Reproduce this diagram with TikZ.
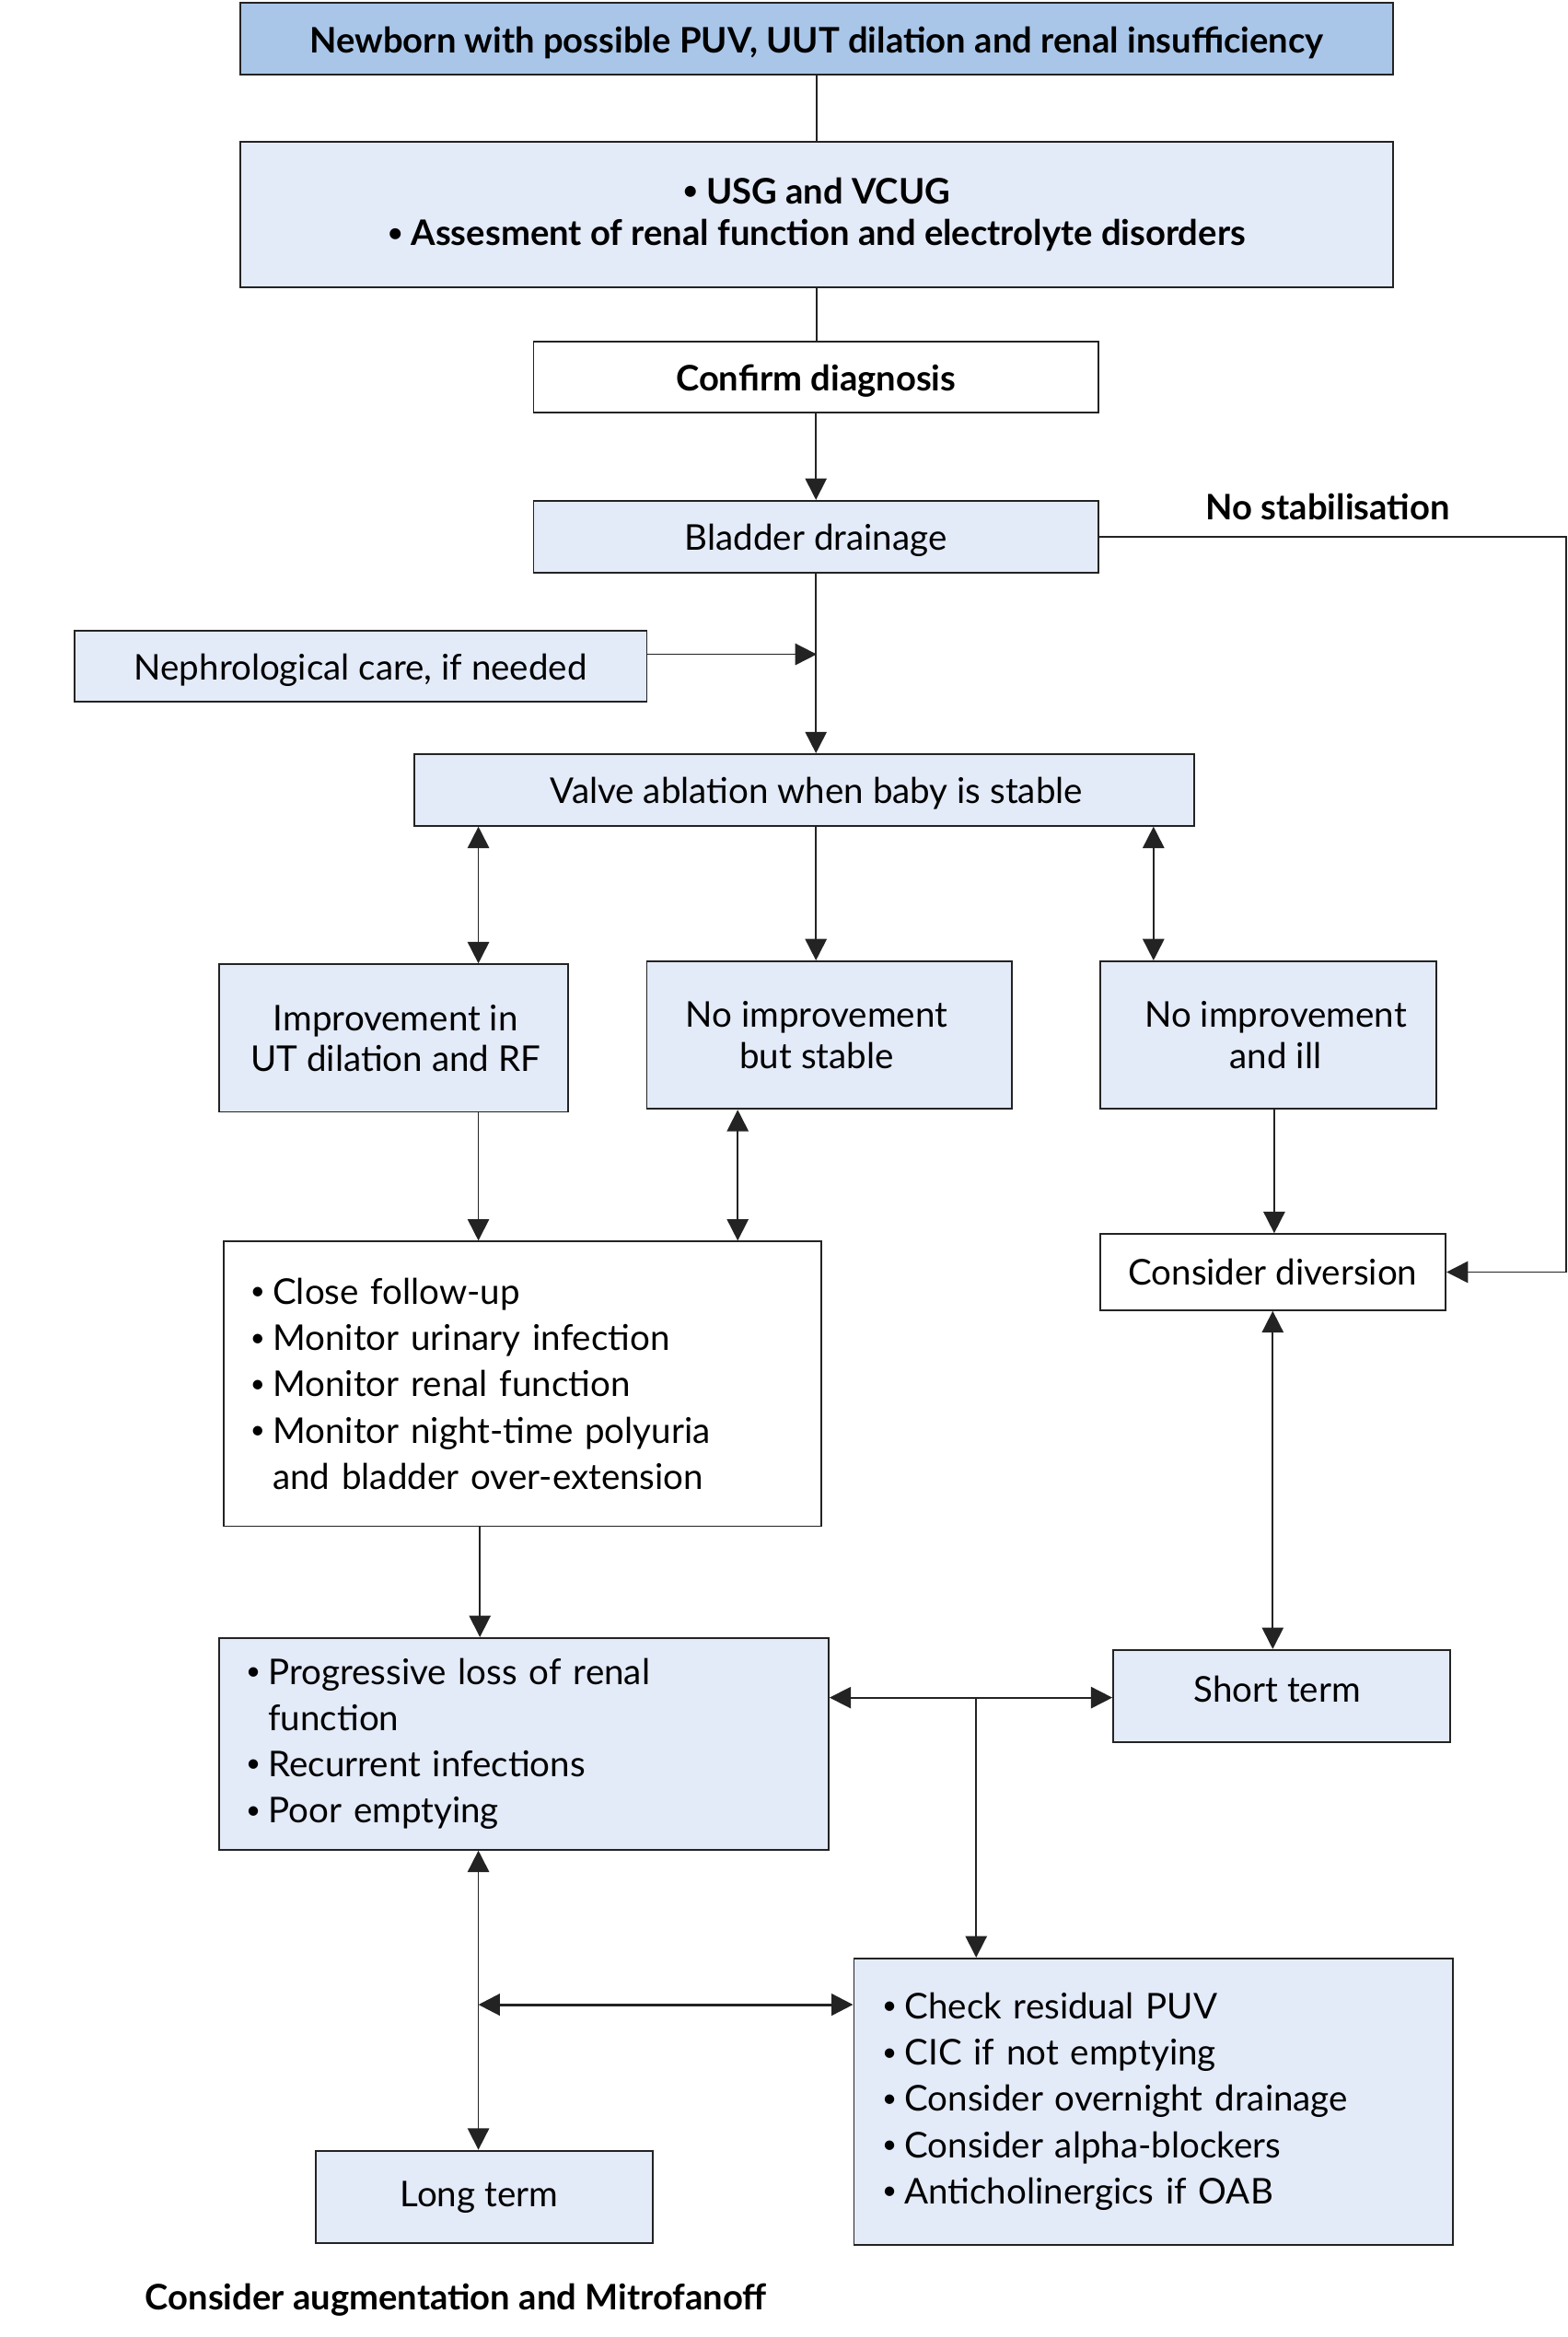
\documentclass[tikz,border=0pt]{standalone}
\usepackage{fontspec}
\usepackage{graphicx}
\setmainfont{Lato}
\usetikzlibrary{arrows.meta}
\definecolor{hdr}{RGB}{169,198,233}
\definecolor{lb}{RGB}{227,234,248}
\definecolor{ln}{RGB}{35,35,35}
\newcommand\bul{\raisebox{0.12em}{\scalebox{0.72}{\textbullet}}}
\newcommand\itm[1]{\makebox[7.5pt][l]{\bul}#1}
\newcommand\cnt[1]{\hspace*{7.5pt}#1}
\newcommand\off[2]{\hspace*{#1}#2}
\begin{document}
\begin{tikzpicture}[x=0.5pt,y=-0.5pt,
  box/.style={draw=ln, line width=0.6pt, fill=lb, inner sep=0pt, align=center,
    font=\fontsize{11.9}{13.7}\selectfont},
  one/.style={text height=9.5pt, text depth=0.2pt},
  hdrbox/.style={box, fill=hdr, font=\fontsize{11.8}{14}\selectfont\bfseries},
  wbox/.style={box, fill=white},
  lst/.style={box, align=left, inner xsep=9pt, inner ysep=0pt,
    font=\fontsize{11.9}{15.5}\selectfont},
  lbl/.style={inner sep=0pt, font=\fontsize{11.8}{14}\selectfont\bfseries},
  con/.style={draw=ln, line width=0.55pt},
  arr/.style={con, -{Triangle[length=7.2pt,width=7.2pt]}},
  darr/.style={con, {Triangle[length=7.2pt,width=7.2pt]}-{Triangle[length=7.2pt,width=7.2pt]}}
]
\useasboundingbox (0,0) rectangle (1052,1568);

\node[hdrbox, one, minimum width=387pt, minimum height=24pt] (top) at (548,26)
  {Newborn with possible PUV, UUT dilation and renal insufficiency};
\node[box, minimum width=387pt, minimum height=49pt, font=\fontsize{11.8}{14}\selectfont\bfseries] (usg) at (548,144)
  {\bul\ USG and VCUG\\\bul\ Assesment of renal function and electrolyte disorders};
\node[wbox, one, minimum width=189.5pt, minimum height=24pt, font=\fontsize{11.8}{14}\selectfont\bfseries] (conf) at (547.5,253)
  {Confirm diagnosis};
\node[box, one, minimum width=189.5pt, minimum height=24pt] (blad) at (547.5,360)
  {Bladder drainage};
\node[box, one, minimum width=192pt, minimum height=24pt] (neph) at (242,447)
  {Nephrological care, if needed};
\node[box, one, minimum width=261.5pt, minimum height=24pt] (valve) at (539.5,530)
  {\off{8.5pt}{Valve ablation when baby is stable}};
\node[box, minimum width=117pt, minimum height=49.5pt] (impr) at (264,696.5)
  {\off{1.5pt}{Improvement in}\\\off{1.5pt}{UT dilation and RF}};
\node[box, minimum width=122.5pt, minimum height=49.5pt] (stab) at (556.5,694.5)
  {\off{-8.5pt}{No improvement}\\\off{-8.5pt}{but stable}};
\node[box, minimum width=113pt, minimum height=49.5pt] (ill) at (851,694.5)
  {\off{5pt}{No improvement}\\\off{5pt}{and ill}};
\node[lst, fill=white, text width=182.5pt, minimum height=95.5pt] (fol) at (350.5,928.5)
  {\itm{Close follow-up}\\\itm{Monitor urinary infection}\\\itm{Monitor renal function}\\\itm{Monitor night-time polyuria}\\\cnt{and bladder over-extension}};
\node[wbox, minimum width=116pt, minimum height=25.5pt] (div) at (854,853.5)
  {Consider diversion};
\node[lst, text width=186.5pt, minimum height=71pt] (prog) at (351.5,1170)
  {\itm{Progressive loss of renal}\\\cnt{function}\\\itm{Recurrent infections}\\\itm{Poor emptying}};
\node[box, minimum width=113pt, minimum height=31pt] (short) at (860,1138)
  {\off{-3pt}{\raisebox{5pt}{Short term}}};
\node[lst, inner xsep=9.5pt, text width=182pt, minimum height=96pt] (check) at (774,1410)
  {\itm{Check residual PUV}\\\itm{CIC if not emptying}\\\itm{Consider overnight drainage}\\\itm{Consider alpha-blockers}\\\itm{Anticholinergics if OAB}};
\node[box, minimum width=113pt, minimum height=31pt] (long) at (325,1474)
  {\off{-3.5pt}{Long term}};

\node[lbl] (nostab) at (891,340) {No stabilisation};
\node[lbl, anchor=west] (aug) at (97,1543) {Consider augmentation and Mitrofanoff};

% coordinates
\coordinate (xr) at (1051,360);
\coordinate (mneph) at (548,439);
\coordinate (c321) at (321,0);
\coordinate (c774) at (774,0);
\coordinate (c495) at (495,0);
\coordinate (c855) at (855,0);
\coordinate (c322) at (322,0);
\coordinate (hy) at (0,1139);
\coordinate (br) at (655,1139);
\coordinate (hy2) at (0,1345);

% connectors
\draw[con] (top.south) -- (usg.north);
\draw[con] (usg.south) -- (usg.south |- conf.north);
\draw[arr] (conf.south) -- (blad.north);
\draw[arr] (blad.south) -- (blad.south |- valve.north);
\draw[arr] (neph.east |- mneph) -- (mneph);
\draw[arr] (blad.east) -- (xr) |- (div.east);
\draw[darr] (valve.south -| c321) -- (impr.north -| c321);
\draw[arr] (valve.south -| blad.south) -- (stab.north -| blad.south);
\draw[darr] (valve.south -| c774) -- (ill.north -| c774);
\draw[arr] (impr.south -| c321) -- (fol.north -| c321);
\draw[darr] (stab.south -| c495) -- (fol.north -| c495);
\draw[arr] (ill.south -| c855) -- (div.north -| c855);
\draw[darr] (div.south) -- (short.north -| div.south);
\draw[arr] (fol.south -| c322) -- (prog.north -| c322);
\draw[darr] (prog.east |- hy) -- (short.west |- hy);
\draw[arr] (br) -- (br |- check.north);
\draw[darr] (prog.south -| c321) -- (long.north -| c321);
\draw[darr, line width=0.9pt] (c321 |- hy2) -- (check.west |- hy2);
\end{tikzpicture}
\end{document}
